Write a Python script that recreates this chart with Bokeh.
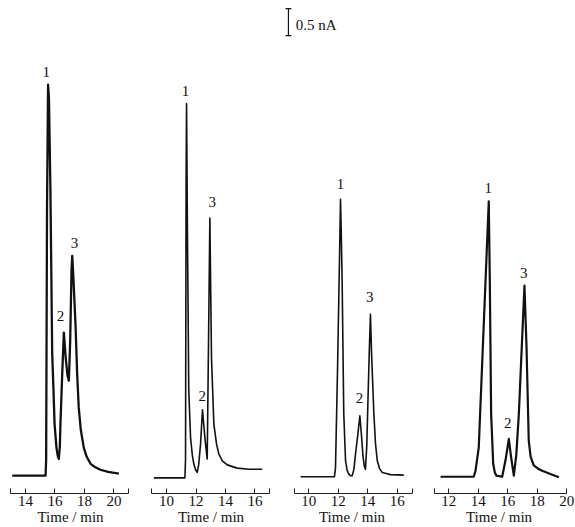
from bokeh.plotting import figure
from bokeh.layouts import row
from bokeh.models import Range1d, FixedTicker
from bokeh.embed import file_html
from bokeh.resources import INLINE
from bokeh.core.properties import value

# ---------------- data (time in min, current in nA above baseline) ----------------
p1_time = [13.10, 15.36, 15.40, 15.46, 15.53, 15.59, 15.69, 15.81, 15.90, 15.97, 16.10, 16.19,
           16.26, 16.33, 16.37, 16.49, 16.60, 16.72, 16.85, 16.94, 17.03, 17.12, 17.17, 17.24,
           17.39, 17.50, 17.61, 17.75, 17.95, 18.15, 18.41, 18.70, 19.08, 19.60, 20.33]
p1_signal = [0.00, 0.00, 0.30, 5.00, 7.24, 7.00, 5.28, 2.26, 1.57, 0.96, 0.52, 0.36,
             0.31, 0.55, 0.96, 1.89, 2.65, 2.20, 1.85, 1.76, 2.50, 3.80, 4.07, 3.70,
             2.81, 1.90, 1.26, 0.85, 0.52, 0.35, 0.22, 0.16, 0.11, 0.07, 0.04]

p2_time = [9.14, 11.25, 11.29, 11.33, 11.36, 11.42, 11.51, 11.63, 11.75, 11.85, 11.97, 12.08,
           12.18, 12.31, 12.44, 12.60, 12.76, 12.85, 12.94, 13.05, 13.21, 13.39, 13.55, 13.80,
           14.12, 14.79, 15.60, 16.49]
p2_signal = [-0.04, -0.04, 0.30, 5.50, 6.89, 4.50, 1.57, 0.71, 0.38, 0.22, 0.11, 0.06,
             0.20, 0.59, 1.22, 0.71, 0.31, 2.50, 4.77, 2.19, 0.96, 0.59, 0.40, 0.27,
             0.20, 0.14, 0.12, 0.12]

p3_time = [9.44, 11.74, 11.81, 11.95, 12.08, 12.15, 12.20, 12.26, 12.37, 12.49, 12.60, 12.71,
           12.82, 12.94, 13.06, 13.17, 13.32, 13.46, 13.57, 13.67, 13.76, 13.84, 13.93, 14.01,
           14.10, 14.18, 14.25, 14.41, 14.52, 14.64, 14.80, 14.98, 15.25, 15.54, 16.44]
p3_signal = [-0.02, -0.02, 0.15, 2.00, 4.00, 5.12, 4.50, 3.61, 1.15, 0.28, 0.10, 0.03,
             0.00, 0.00, 0.12, 0.41, 0.75, 1.11, 0.75, 0.37, 0.18, 0.12, 0.55, 1.39,
             2.30, 2.99, 2.30, 1.15, 0.60, 0.28, 0.13, 0.06, 0.04, 0.02, 0.01]

p4_time = [11.44, 13.69, 13.81, 14.03, 14.37, 14.71, 14.78, 14.87, 15.01, 15.12, 15.23, 15.62,
           15.84, 16.07, 16.22, 16.41, 16.58, 16.75, 16.95, 17.13, 17.27, 17.42, 17.55, 17.76,
           18.05, 18.33, 18.89, 19.46]
p4_signal = [-0.02, -0.02, 0.09, 0.52, 2.80, 5.08, 3.61, 1.15, 0.22, 0.06, 0.00, -0.02,
             0.28, 0.68, 0.35, 0.00, 0.40, 1.15, 2.40, 3.52, 2.38, 0.65, 0.35, 0.19,
             0.13, 0.09, 0.03, -0.03]

peak_names = ["1", "2", "3"]
p1_label_time = [15.40, 16.37, 17.32]
p1_label_signal = [7.48, 2.96, 4.30]
p2_label_time = [11.29, 12.42, 13.10]
p2_label_signal = [7.13, 1.48, 5.06]
p3_label_time = [12.15, 13.44, 14.14]
p3_label_signal = [5.41, 1.43, 3.31]
p4_label_time = [14.67, 16.00, 17.08]
p4_label_signal = [5.33, 0.97, 3.76]

p1_ticks = [14, 16, 18, 20]
p2_ticks = [10, 12, 14, 16]
p3_ticks = [10, 12, 14, 16]
p4_ticks = [12, 14, 16, 18, 20]
p1_axis_span = (13, 21)
p2_axis_span = (9, 17)
p3_axis_span = (9, 17)
p4_axis_span = (11, 20)

scale_bar_nA = 0.5
scale_bar_label = "0.5 nA"
x_title = "Time / min"

# ---------------- layout / style ----------------
SERIF = "Liberation Serif"
H = 527
Y_RANGE = (-0.33, 8.8)

panels = [
    dict(t=p1_time, s=p1_signal, lt=p1_label_time, ls=p1_label_signal, ticks=p1_ticks,
         span=p1_axis_span, width=140, xr=(12.305, 21.797), lw=2.3),
    dict(t=p2_time, s=p2_signal, lt=p2_label_time, ls=p2_label_signal, ticks=p2_ticks,
         span=p2_axis_span, width=141, xr=(8.237, 17.797), lw=1.6),
    dict(t=p3_time, s=p3_signal, lt=p3_label_time, ls=p3_label_signal, ticks=p3_ticks,
         span=p3_axis_span, width=141, xr=(8.149, 17.708), lw=1.6),
    dict(t=p4_time, s=p4_signal, lt=p4_label_time, ls=p4_label_signal, ticks=p4_ticks,
         span=p4_axis_span, width=153, xr=(10.217, 20.59), lw=2.2),
]

figs = []
for i, pc in enumerate(panels):
    p = figure(width=pc["width"], height=H, output_backend="svg", toolbar_location=None,
               x_range=Range1d(*pc["xr"]), y_range=Range1d(*Y_RANGE),
               y_axis_location=None, min_border=0)
    p.outline_line_color = None
    p.xgrid.visible = False
    p.ygrid.visible = False
    p.background_fill_color = "white"
    p.border_fill_color = "white"

    p.line(pc["t"], pc["s"], line_color="#111111", line_width=pc["lw"], line_join="round")
    p.text(pc["lt"], pc["ls"], text=peak_names, text_font=value(SERIF),
           text_font_size="15px", text_align="center", text_baseline="middle",
           text_color="#111111")

    ax = p.xaxis[0]
    lo, hi = pc["span"]
    all_ticks = sorted(set([lo] + pc["ticks"] + [hi]))
    ax.ticker = FixedTicker(ticks=all_ticks)
    ax.major_label_overrides = {t: "" for t in all_ticks if t not in pc["ticks"]}
    ax.bounds = (lo, hi)
    ax.major_tick_in = 5
    ax.major_tick_out = 0
    ax.minor_tick_line_color = None
    ax.axis_line_color = "#222222"
    ax.major_tick_line_color = "#222222"
    ax.axis_line_width = 1.2
    ax.major_label_text_font = SERIF
    ax.major_label_text_font_size = "15px"
    ax.major_label_text_color = "#111111"
    ax.major_label_standoff = 2
    ax.axis_label = x_title
    ax.axis_label_text_font = SERIF
    ax.axis_label_text_font_size = "15px"
    ax.axis_label_text_font_style = "normal"
    ax.axis_label_text_color = "#111111"
    ax.axis_label_standoff = 0

    if i == 2:
        # scale bar drawn in this panel's data units
        bx = 8.62
        btop = 8.65
        bbot = btop - scale_bar_nA
        cap = 0.2
        p.segment([bx, bx - cap, bx - cap], [bbot, btop, bbot],
                  [bx, bx + cap, bx + cap], [btop, btop, bbot],
                  line_color="#111111", line_width=1.2)
        p.text([bx + 0.5], [bbot + 0.2], text=[scale_bar_label], text_font=value(SERIF),
               text_font_size="15px", text_align="left", text_baseline="middle",
               text_color="#111111")
    figs.append(p)

layout = row(*figs, spacing=0)
open("out.html", "w").write(file_html(layout, INLINE))
